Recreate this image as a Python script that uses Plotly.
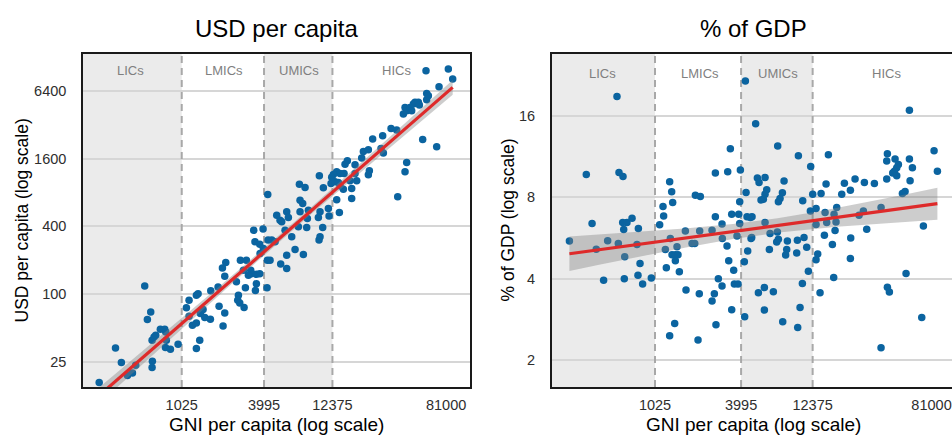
import numpy as np
import plotly.graph_objects as go

# ---- data -------------------------------------------------------------
# Panel 1: GNI per capita (USD) vs. health spending per capita (USD)
gni_usd = [262, 343, 378, 418, 454, 479, 556, 614, 581, 631,
           628, 628, 649, 667, 720, 774, 787, 783, 850, 795,
           965, 1107, 1157, 1306, 1343, 1223, 1306, 1157, 1380, 1306,
           1396, 1458, 1500, 1646, 1900, 2087, 2030, 1656, 1869, 2008,
           2122, 2087, 2530, 2936, 2616, 2587, 2674, 2873, 2703, 2985,
           3241, 3521, 3521, 3464, 3721, 4223, 4199, 3440, 3721, 4271,
           3368, 3932, 4538, 4795, 3953, 3741, 4413, 3207, 3086, 2841,
           4247, 4927, 5205, 5350, 5812, 5975, 5655, 6313, 5261, 5812,
           5812, 6670, 7655, 7166, 7870, 7245, 7571, 7245, 8315, 8180,
           7048, 8088, 9917, 10081, 10535, 10081, 9808, 11570, 11700, 9970,
           10652, 12090, 13875, 13278, 17010, 17010, 14825, 16551, 18480, 13278,
           14029, 14990, 12915, 12566, 12225, 15840, 15240, 17980, 17980, 20070,
           20630, 22410, 24060, 22410, 22780, 27620, 28707, 28380, 32600, 35786,
           36390, 41080, 42219, 54990, 69311, 39958, 41080, 42219, 44608, 45860,
           47142, 48460, 51200, 52050, 58749, 58749, 60400, 72050, 58100, 84050,
           90300, 14029, 13650]
usd_pc = [16.4, 33.3, 24.7, 19.0, 20.0, 23.4, 118, 69.6, 59.5, 25.4,
          22.3, 39.0, 41.7, 43.2, 48.9, 48.9, 46.2, 33.6, 32.4, 39.0,
          35.9, 75.6, 88.4, 97.9, 101, 52.9, 55.5, 63.7, 39.0, 32.9,
          67.3, 73.0, 62.0, 59.9, 78.2, 68.2, 52.3, 107, 116, 171,
          191, 144, 129, 114, 97.9, 88.4, 83.7, 76.0, 200, 200,
          152, 150, 124, 108, 152, 200, 114, 292, 278, 302,
          370, 378, 302, 292, 254, 230, 200, 163, 147, 163,
          767, 503, 454, 439, 538, 479, 370, 323, 185, 222,
          169, 249, 225, 948, 885, 683, 638, 538, 557, 470,
          396, 391, 302, 323, 391, 538, 479, 576, 493, 1125,
          880, 961, 531, 688, 706, 868, 856, 1016, 1016, 1220,
          1179, 1179, 995, 1156, 1094, 1528, 1427, 1408, 1179, 1614,
          1851, 1914, 2380, 1147, 1245, 1968, 1787, 2550, 2960, 2861,
          732, 1220, 1477, 2365, 2035, 3970, 4549, 4249, 4549, 4249,
          4870, 5043, 5043, 4772, 5320, 6058, 5780, 6942, 9630, 9960,
          8130, 917, 982]

# Panel 2: GNI per capita (USD) vs. health spending as % of GDP
gni_gdp = [265, 346, 379, 405, 455, 485, 562, 580, 618, 574,
           615, 658, 713, 625, 635, 631, 788, 771, 809, 783,
           843, 967, 1103, 1175, 1207, 1306, 1341, 1414, 1474, 1451,
           1414, 1226, 1506, 1656, 1673, 1399, 1292, 1840, 1920, 2064,
           2023, 2076, 2524, 2660, 2956, 2971, 3199, 3285, 3554, 2788,
           2956, 2619, 2525, 2686, 3444, 3592, 3806, 3746, 3908, 4206,
           4229, 4674, 4389, 4749, 4275, 5028, 3372, 2660, 3233, 3949,
           1292, 1334, 1940, 2098, 1163, 1355, 3444, 3847, 3908, 4320,
           4625, 7126, 9878, 12000, 15870, 57110, 40320, 39900, 45530, 47990,
           46745, 45060, 43870, 46745, 57110, 59870, 84320, 88880, 39900, 57712,
           53330, 51120, 32840, 28040, 24190, 20440, 22470, 19600, 15300, 14140,
           12390, 10580, 7877, 7673, 7393, 7203, 5833, 5168, 5305, 5989,
           5833, 5681, 5475, 11940, 13060, 15060, 18104, 17360, 27596, 36480,
           5833, 4725, 4435, 6313, 7087, 7014, 7203, 6246, 8303, 8215,
           8080, 9725, 10800, 9621, 11268, 11570, 10520, 5770, 5250, 6653,
           10141, 5770, 7712, 9775, 13060, 15458, 17640, 14900, 16910, 13410,
           13060, 22590, 22470, 29088, 17260, 13912, 71240, 54150, 40320, 41620,
           69390, 36480, 25770, 17910]
pct_gdp = [5.51, 9.73, 6.40, 5.14, 3.95, 5.53, 18.9, 9.89, 9.56, 5.40,
           6.46, 6.46, 6.70, 6.08, 4.82, 4.00, 6.14, 5.35, 4.55, 4.12,
           3.82, 4.02, 6.34, 6.82, 5.13, 5.63, 4.91, 4.91, 4.91, 5.25,
           4.66, 4.39, 4.24, 6.01, 3.63, 2.73, 2.46, 5.40, 5.40, 3.52,
           2.37, 6.01, 6.05, 6.78, 6.37, 5.63, 5.28, 4.66, 4.30, 4.00,
           3.76, 3.52, 3.31, 2.70, 3.07, 3.82, 3.82, 5.75, 6.40, 4.62,
           2.89, 5.63, 6.78, 6.78, 21.6, 15.0, 12.1, 9.84, 9.95, 10.1,
           9.14, 8.39, 8.15, 8.06, 7.40, 7.66, 6.93, 6.93, 7.70, 8.34,
           6.74, 12.4, 11.4, 10.4, 11.5, 16.8, 11.6, 10.9, 11.1, 10.6,
           10.3, 10.0, 9.84, 9.62, 11.1, 10.3, 11.9, 10.0, 9.35, 9.21,
           8.41, 8.27, 9.01, 9.08, 9.35, 9.03, 8.51, 8.22, 8.96, 8.27,
           8.22, 7.77, 9.19, 8.33, 7.92, 7.70, 9.48, 9.43, 9.08, 8.53,
           8.22, 7.88, 7.83, 7.13, 7.28, 7.03, 7.34, 6.93, 7.13, 7.34,
           6.46, 5.68, 5.06, 5.88, 5.96, 5.47, 5.60, 5.13, 5.51, 5.13,
           4.89, 5.55, 5.68, 4.98, 5.23, 4.26, 3.84, 3.71, 3.55, 3.58,
           3.13, 3.06, 2.77, 2.64, 6.35, 6.46, 6.03, 5.79, 5.35, 4.94,
           4.70, 5.66, 4.75, 6.10, 4.04, 3.55, 6.27, 4.18, 3.72, 3.57,
           2.87, 2.22, 6.87, 6.49]

# Income-group thresholds (GNI per capita) and axis ticks
thresholds = [1025, 3995, 12375]
group_names = ["LICs", "LMICs", "UMICs", "HICs"]
x_ticks = [1025, 3995, 12375, 81000]
usd_ticks = [25, 100, 400, 1600, 6400]
gdp_ticks = [2, 4, 8, 16]

# ---- styling ------------------------------------------------------------
FONT = "Liberation Sans, Arial, Helvetica, sans-serif"
W, H = 952, 435
POINT = "#0B64A0"
LINE = "#DE2A2A"
BAND = "rgba(130,130,130,0.40)"
SHADE = "#EBEBEB"
GRID = "#D6D6D6"
FRAME = "#1A1A1A"

# panel geometry in pixels: (left, right) and (top, bottom)
panels = [
    dict(px=(83, 470), xr=(2.302, 5.080), yr=(1.176, 4.132),
         x=gni_usd, y=usd_pc, yt=usd_ticks,
         title="USD per capita", ytitle="USD per capita (log scale)",
         ytitle_x=21, label_x=[436, 2060, 7130, 35400], label_py=70,
         mirror_y=True),
    dict(px=(551.7, 952), xr=(2.3017, 5.049), yr=(0.201, 1.434),
         x=gni_gdp, y=pct_gdp, yt=gdp_ticks,
         title="% of GDP", ytitle="% of GDP (log scale)",
         ytitle_x=507, label_x=[446, 2090, 7130, 39900], label_py=74,
         mirror_y=False),
]
TOP, BOTTOM = 54, 387


def linear_fit(x, y, n_pts=100, t=1.975):
    """OLS fit in log-log space with a 95% confidence band."""
    lx, ly = np.log10(x), np.log10(y)
    b1, b0 = np.polyfit(lx, ly, 1)
    n = len(lx)
    resid = ly - (b0 + b1 * lx)
    s = np.sqrt(np.sum(resid ** 2) / (n - 2))
    sxx = np.sum((lx - lx.mean()) ** 2)
    xg = np.linspace(lx.min(), lx.max(), n_pts)
    yg = b0 + b1 * xg
    se = s * np.sqrt(1.0 / n + (xg - lx.mean()) ** 2 / sxx)
    return 10 ** xg, 10 ** yg, 10 ** (yg - t * se), 10 ** (yg + t * se)


fig = go.Figure()
shapes, annotations = [], []
y_dom = [(H - BOTTOM) / H, (H - TOP) / H]

for i, p in enumerate(panels):
    sfx = "" if i == 0 else str(i + 1)
    xa, ya = "x" + sfx, "y" + sfx
    x = np.array(p["x"], dtype=float)
    y = np.array(p["y"], dtype=float)
    y_lo, y_hi = 10 ** p["yr"][0], 10 ** p["yr"][1]

    # dashed threshold lines, drawn under the points
    for t in thresholds:
        fig.add_trace(go.Scatter(
            x=[t, t], y=[y_lo, y_hi], mode="lines", xaxis=xa, yaxis=ya,
            line=dict(color="#A8A8A8", width=2, dash="7px,5px"),
            hoverinfo="skip", showlegend=False))

    fig.add_trace(go.Scatter(
        x=x, y=y, mode="markers", xaxis=xa, yaxis=ya,
        marker=dict(color=POINT, size=7.5, line=dict(width=0)),
        hoverinfo="skip", showlegend=False))

    fx, fy, lo, hi = linear_fit(x, y)
    fig.add_trace(go.Scatter(
        x=np.concatenate([fx, fx[::-1]]), y=np.concatenate([hi, lo[::-1]]),
        mode="lines", fill="toself", fillcolor=BAND, line=dict(width=0),
        xaxis=xa, yaxis=ya, hoverinfo="skip", showlegend=False))
    fig.add_trace(go.Scatter(
        x=fx, y=fy, mode="lines", line=dict(color=LINE, width=3.2),
        xaxis=xa, yaxis=ya, hoverinfo="skip", showlegend=False))

    x_dom = [p["px"][0] / W, p["px"][1] / W]
    axis_common = dict(
        type="log", showline=True, linecolor=FRAME, linewidth=1.5,
        zeroline=False, ticks="", automargin=False,
        tickfont=dict(family=FONT, size=14.5, color="#2E2E2E"))
    fig.update_layout(**{
        "xaxis" + sfx: dict(
            axis_common, domain=x_dom, range=list(p["xr"]), anchor=ya,
            tickvals=x_ticks, ticktext=[str(v) for v in x_ticks],
            showgrid=False, mirror=True, ticklabelstandoff=4),
        "yaxis" + sfx: dict(
            axis_common, domain=y_dom, range=list(p["yr"]), anchor=xa,
            tickvals=p["yt"], ticktext=[str(v) for v in p["yt"]],
            showgrid=True, gridcolor=GRID, gridwidth=2,
            mirror=p["mirror_y"], ticklabelstandoff=12),
    })

    # shaded income bands (LICs and UMICs)
    edge_lo = 10 ** p["xr"][0]
    for x0, x1 in [(edge_lo, thresholds[0]), (thresholds[1], thresholds[2])]:
        shapes.append(dict(type="rect", xref=xa, yref="paper",
                           x0=x0, x1=x1, y0=y_dom[0], y1=y_dom[1],
                           fillcolor=SHADE, line=dict(width=0),
                           layer="below"))
    # income group labels
    label_y = (BOTTOM - p["label_py"]) / (BOTTOM - TOP)
    for name, lx in zip(group_names, p["label_x"]):
        annotations.append(dict(
            xref=xa, yref="paper", x=np.log10(lx),
            y=y_dom[0] + label_y * (y_dom[1] - y_dom[0]),
            text=name, showarrow=False, xanchor="center", yanchor="middle",
            font=dict(family=FONT, size=13, color="#7F7F7F")))

    cx = (p["px"][0] + min(p["px"][1], 956.5)) / 2
    if i == 1:
        cx = 753
    # panel title
    annotations.append(dict(
        xref="paper", yref="paper", x=cx / W, y=1 - 28 / H,
        text=p["title"], showarrow=False, xanchor="center", yanchor="middle",
        font=dict(family=FONT, size=24, color="#000000")))
    # axis titles
    annotations.append(dict(
        xref="paper", yref="paper", x=cx / W, y=1 - 424 / H,
        text="GNI per capita (log scale)", showarrow=False,
        xanchor="center", yanchor="middle",
        font=dict(family=FONT, size=19, color="#000000")))
    annotations.append(dict(
        xref="paper", yref="paper", x=p["ytitle_x"] / W,
        y=1 - (TOP + BOTTOM) / 2 / H, text=p["ytitle"], textangle=-90,
        showarrow=False, xanchor="center", yanchor="middle",
        font=dict(family=FONT, size=17.5, color="#000000")))

fig.update_layout(
    width=W, height=H, margin=dict(l=0, r=0, t=0, b=0, pad=0),
    paper_bgcolor="white", plot_bgcolor="white",
    shapes=shapes, annotations=annotations, showlegend=False,
    font=dict(family=FONT))

fig.write_html("out.html")
